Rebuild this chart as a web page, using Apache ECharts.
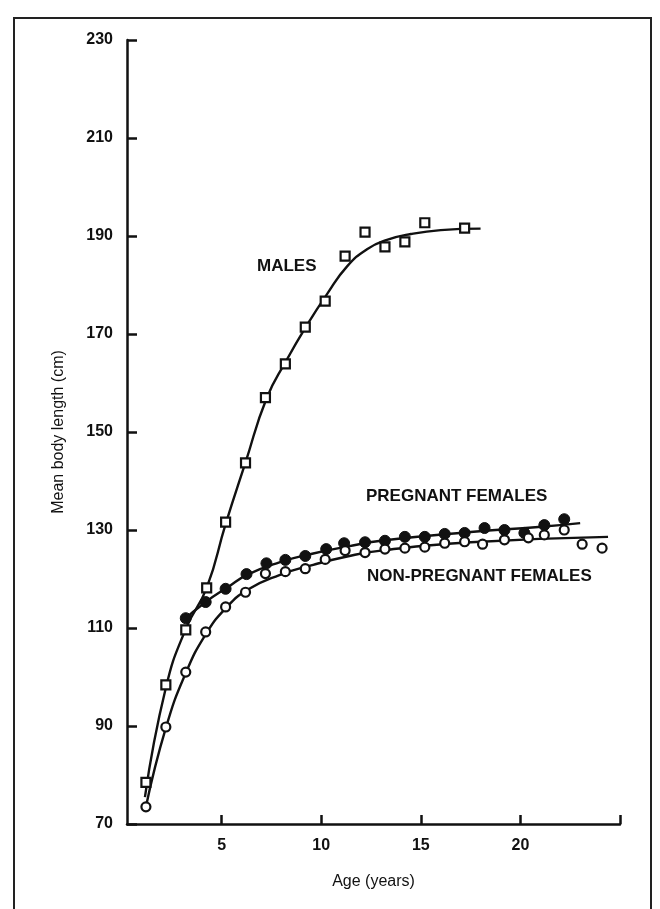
<!DOCTYPE html>
<html>
<head>
<meta charset="utf-8">
<script src="https://cdn.jsdelivr.net/npm/echarts@6/dist/echarts.min.js"></script>
<style>
html,body{margin:0;padding:0;background:#fff;}
#chart{width:660px;height:909px;}
</style>
</head>
<body>
<div id="chart"></div>
<script>
// Observed points (age in years, mean body length in cm)
const maleAge = [1.2, 2.2, 3.2, 4.25, 5.2, 6.2, 7.2, 8.2, 9.2, 10.2, 11.2, 12.2, 13.2, 14.2, 15.2, 17.2];
const maleLen = [78.5, 98.4, 109.6, 118.2, 131.6, 143.7, 157.0, 163.9, 171.4, 176.7, 185.9, 190.8, 187.8, 188.8, 192.7, 191.6];

const pregAge = [3.2, 4.2, 5.2, 6.25, 7.25, 8.2, 9.2, 10.25, 11.15, 12.2, 13.2, 14.2, 15.2, 16.2, 17.2, 18.2, 19.2, 20.2, 21.2, 22.2];
const pregLen = [112.0, 115.3, 118.0, 121.0, 123.2, 123.9, 124.7, 126.1, 127.3, 127.5, 127.8, 128.6, 128.6, 129.2, 129.4, 130.4, 130.0, 129.4, 131.0, 132.2];

const nonAge = [1.2, 2.2, 3.2, 4.2, 5.2, 6.2, 7.2, 8.2, 9.2, 10.2, 11.2, 12.2, 13.2, 14.2, 15.2, 16.2, 17.2, 18.1, 19.2, 20.4, 21.2, 22.2, 23.1, 24.1];
const nonLen = [73.5, 89.8, 101.0, 109.2, 114.3, 117.3, 121.1, 121.5, 122.1, 124.0, 125.8, 125.4, 126.1, 126.3, 126.5, 127.3, 127.6, 127.1, 128.0, 128.4, 129.0, 130.0, 127.1, 126.3];

// Fitted curves
const maleCurveAge = [1.15, 2.2, 3.2, 4.25, 5.2, 6.2, 7.25, 8.25, 9.25, 10.3, 11.3, 12.3, 13.3, 14.5, 16.0, 18.0];
const maleCurveLen = [75.5, 97.8, 109.8, 118.2, 131.2, 143.8, 156.8, 164.6, 171.6, 178.2, 183.8, 187.3, 189.2, 190.4, 191.2, 191.5];

const pregCurveAge = [3.0, 4.2, 5.3, 6.3, 7.9, 9.6, 11.3, 13.0, 17.5, 20.9, 23.0];
const pregCurveLen = [111.3, 115.3, 118.3, 120.9, 123.4, 125.2, 126.6, 127.8, 129.6, 130.6, 131.4];

const nonCurveAge = [1.2, 2.2, 3.2, 4.2, 5.2, 6.3, 7.9, 9.6, 11.3, 13.0, 17.5, 24.4];
const nonCurveLen = [73.5, 89.6, 100.8, 108.7, 114.0, 117.8, 120.8, 122.9, 124.6, 125.8, 127.5, 128.6];

// Axis ticks
const yTicks = [70, 90, 110, 130, 150, 170, 190, 210, 230];
const xTicks = [5, 10, 15, 20, 25];
const xLabels = [5, 10, 15, 20];

const seriesLabels = ['MALES', 'PREGNANT FEMALES', 'NON-PREGNANT FEMALES'];
const xName = 'Age (years)';
const yName = 'Mean body length (cm)';

const zip = (a, b) => a.map((v, i) => [v, b[i]]);

const chart = echarts.init(document.getElementById('chart'));
const FONT = '"Liberation Sans", Arial, sans-serif';
const INK = '#111';

const curve = (a, b) => ({
  type: 'line', data: zip(a, b), smooth: 0.5, showSymbol: false, silent: true,
  lineStyle: { color: INK, width: 2.4 }, z: 2
});

chart.setOption({
  backgroundColor: '#fff',
  animation: false,
  grid: { left: 127, right: 40, top: 40, bottom: 85, containLabel: false },
  xAxis: {
    type: 'value', min: 0.25, max: 25,
    name: xName, nameLocation: 'middle', nameGap: 50,
    nameTextStyle: { fontFamily: FONT, fontSize: 16, color: INK },
    axisLine: { show: true, onZero: false, lineStyle: { color: INK, width: 2.5 } },
    axisTick: { show: true, inside: true, length: 9, customValues: xTicks, lineStyle: { color: INK, width: 2.5 } },
    axisLabel: { customValues: xLabels, fontFamily: FONT, fontSize: 16, fontWeight: 'bold', color: INK, margin: 14 },
    splitLine: { show: false }
  },
  yAxis: {
    type: 'value', min: 70, max: 230,
    name: yName, nameLocation: 'middle', nameGap: 60, nameRotate: 90,
    nameTextStyle: { fontFamily: FONT, fontSize: 16, color: INK },
    axisLine: { show: true, lineStyle: { color: INK, width: 2.5 } },
    axisTick: { show: true, inside: true, length: 10, customValues: yTicks, lineStyle: { color: INK, width: 2.5 } },
    axisLabel: { customValues: yTicks, fontFamily: FONT, fontSize: 16, fontWeight: 'bold', color: INK, margin: 14 },
    splitLine: { show: false }
  },
  series: [
    curve(maleCurveAge, maleCurveLen),
    curve(pregCurveAge, pregCurveLen),
    curve(nonCurveAge, nonCurveLen),
    { type: 'scatter', data: zip(maleAge, maleLen), symbol: 'rect', symbolSize: 9, silent: true,
      itemStyle: { color: '#fff', borderColor: INK, borderWidth: 2.2, opacity: 1 }, z: 4 },
    { type: 'scatter', data: zip(pregAge, pregLen), symbol: 'circle', symbolSize: 11, silent: true,
      itemStyle: { color: INK, borderColor: INK, borderWidth: 1, opacity: 1 }, z: 4 },
    { type: 'scatter', data: zip(nonAge, nonLen), symbol: 'circle', symbolSize: 9, silent: true,
      itemStyle: { color: '#fff', borderColor: INK, borderWidth: 2.2, opacity: 1 }, z: 5 }
  ],
  graphic: [
    { type: 'rect', shape: { x: 14, y: 18, width: 637, height: 905 }, style: { fill: 'none', stroke: '#222', lineWidth: 2 }, silent: true },
    { type: 'text', left: 257, top: 258, style: { text: seriesLabels[0], font: 'bold 17px ' + FONT, fill: INK } },
    { type: 'text', left: 366, top: 488, style: { text: seriesLabels[1], font: 'bold 17px ' + FONT, fill: INK } },
    { type: 'text', left: 367, top: 568, style: { text: seriesLabels[2], font: 'bold 17px ' + FONT, fill: INK } }
  ]
});
</script>
</body>
</html>
